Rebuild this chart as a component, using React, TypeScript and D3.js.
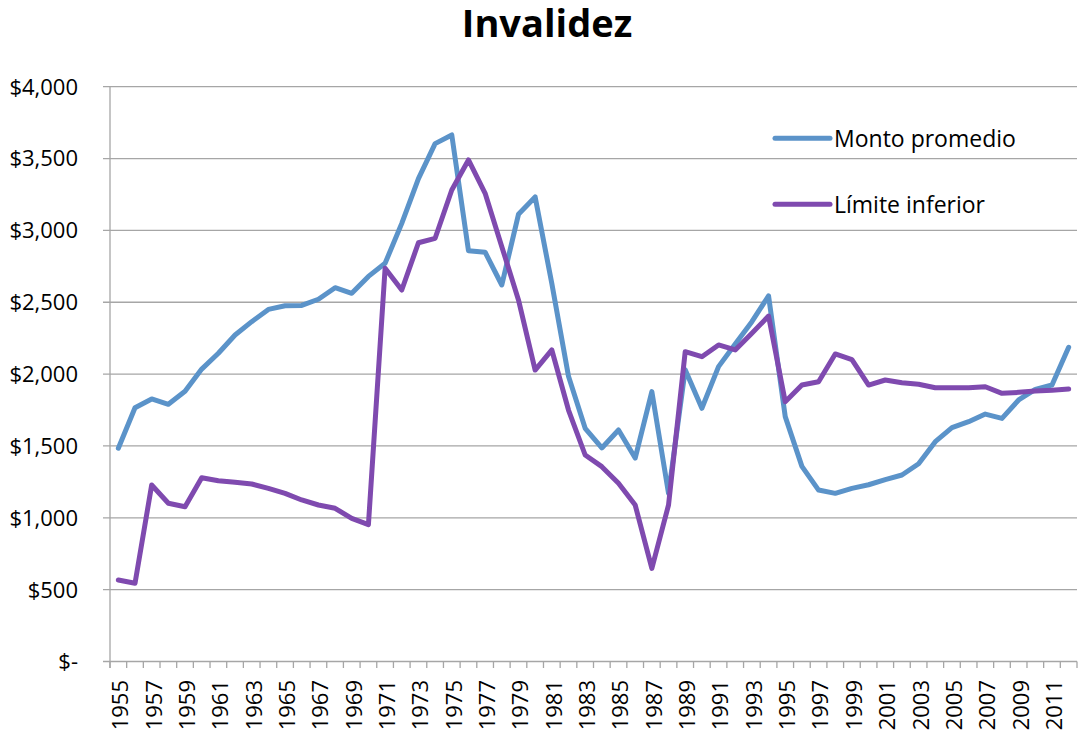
import React from "react";
import * as d3 from "d3";

const years: number[] = d3.range(1955, 2013);

const montoPromedio: number[] = [
  1484, 1766, 1827, 1790, 1880, 2035, 2145, 2272, 2365, 2450,
  2476, 2478, 2521, 2601, 2562, 2680, 2771, 3049, 3360, 3604,
  3664, 2859, 2848, 2620, 3112, 3233, 2630, 1985, 1623, 1486,
  1611, 1416, 1878, 1170, 2030, 1762, 2052, 2210, 2365, 2544,
  1704, 1358, 1193, 1170, 1205, 1230, 1266, 1298, 1376, 1530,
  1627, 1669, 1722, 1692, 1820, 1894, 1924, 2187,
];

const limiteInferior: number[] = [
  567, 544, 1228, 1101, 1077, 1279, 1258, 1247, 1235, 1205,
  1170, 1124, 1089, 1066, 996, 952, 2736, 2585, 2914, 2945,
  3281, 3490, 3258, 2887, 2516, 2028, 2168, 1750, 1437, 1356,
  1240, 1089, 648, 1089, 2156, 2121, 2203, 2168, 2284, 2404,
  1808, 1924, 1947, 2140, 2100, 1924, 1959, 1940, 1929, 1905,
  1905, 1905, 1912, 1866, 1873, 1882, 1887, 1896,
];

const yTicks: number[] = [0, 500, 1000, 1500, 2000, 2500, 3000, 3500, 4000];
const seriesNames: string[] = ["Monto promedio", "Límite inferior"];
const seriesColors: string[] = ["#5B93C9", "#7F4AAF"];
const title = "Invalidez";

const W = 1079;
const H = 734;
const FONT = "'Open Sans', 'Noto Sans', sans-serif";

export default function App() {
  const left = 110;
  const right = 1077;
  const top = 86.7;
  const bottom = 661.5;

  const x = d3.scaleBand<number>().domain(years).range([left, right]).padding(0);
  const y = d3.scaleLinear().domain([0, 4000]).range([bottom, top]);
  const cx = (yr: number) => (x(yr) as number) + x.bandwidth() / 2;

  const line = d3
    .line<number>()
    .x((_, i) => cx(years[i]))
    .y((v) => y(v));

  const fmt = (v: number) => (v === 0 ? "$-" : "$" + d3.format(",")(v));
  const gridColor = "#A6A6A6";

  const boundaries = years.map((yr) => x(yr) as number).concat([right]);

  return (
    <svg
      width={W}
      height={H}
      style={{ position: "absolute", left: 0, top: 0, background: "#fff" }}
      fontFamily={FONT}
    >
      <text x={547} y={36.5} textAnchor="middle" fontSize={38} fontWeight={700} fill="#000">
        {title}
      </text>

      {/* gridlines */}
      {yTicks.map((t) => (
        <line key={"g" + t} x1={103} x2={right} y1={y(t)} y2={y(t)} stroke={gridColor} strokeWidth={1.3} />
      ))}
      {/* y axis */}
      <line x1={left} x2={left} y1={top} y2={bottom + 6.5} stroke={gridColor} strokeWidth={1.3} />
      {yTicks.map((t) => (
        <text key={"yl" + t} x={78} y={y(t)} dy="0.36em" textAnchor="end" fontSize={22} fill="#000">
          {fmt(t)}
        </text>
      ))}
      {/* x ticks */}
      {boundaries.map((b, i) => (
        <line key={"xt" + i} x1={b} x2={b} y1={bottom} y2={bottom + 6.5} stroke={gridColor} strokeWidth={1.3} />
      ))}
      {years
        .filter((yr) => (yr - 1955) % 2 === 0)
        .map((yr) => (
          <text
            key={"xl" + yr}
            transform={`translate(${cx(yr) + 2},${680}) rotate(-90)`}
            dy="0.36em"
            textAnchor="end"
            fontSize={22}
            fill="#000"
          >
            {yr}
          </text>
        ))}

      {/* series */}
      {[montoPromedio, limiteInferior].map((s, k) => (
        <path
          key={"s" + k}
          d={line(s) as string}
          fill="none"
          stroke={seriesColors[k]}
          strokeWidth={5}
          strokeLinejoin="round"
          strokeLinecap="round"
        />
      ))}

      {/* legend */}
      {seriesNames.map((n, k) => {
        const ly = 138.3 + k * 66;
        return (
          <g key={"lg" + k}>
            <line x1={775} x2={830} y1={ly} y2={ly} stroke={seriesColors[k]} strokeWidth={5} strokeLinecap="round" />
            <text x={834} y={ly} dy="0.36em" fontSize={23} fill="#000">
              {n}
            </text>
          </g>
        );
      })}
    </svg>
  );
}
